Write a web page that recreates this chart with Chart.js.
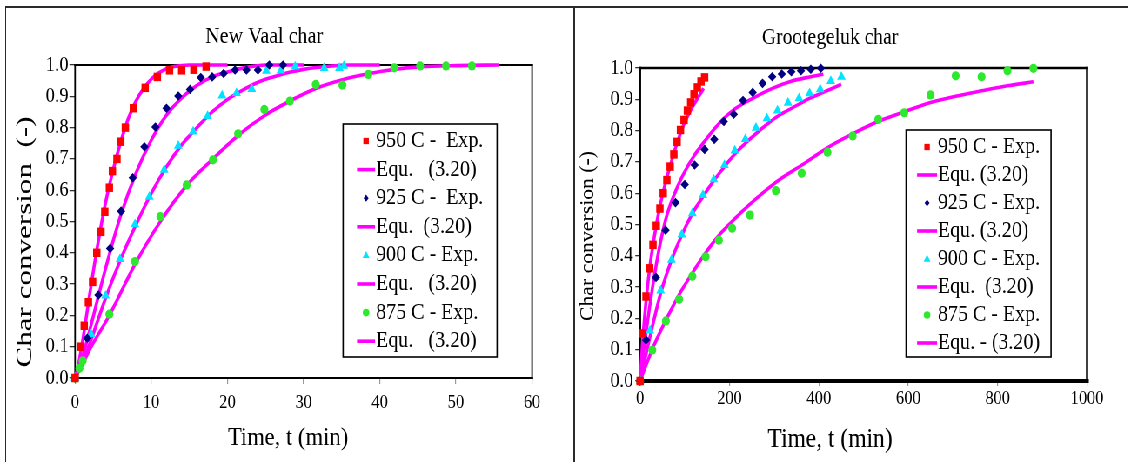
<!DOCTYPE html>
<html>
<head>
<meta charset="utf-8">
<title>Char conversion - New Vaal / Grootegeluk</title>
<script src="https://cdn.jsdelivr.net/npm/chart.js"></script>
<style>
  html, body { margin: 0; padding: 0; background: #fff; overflow: hidden; }
  #page { position: relative; width: 1128px; height: 462px; overflow: hidden; }
  .rule { position: absolute; background: #2a2a2a; }
  /* the drawing layer is squeezed horizontally, so the canvases are laid out 1/0.87 wider */
  #squeeze { position: absolute; left: 0; top: 0; width: 1297px; height: 462px;
             transform: scaleX(0.87); transform-origin: 0 0; }
  #squeeze canvas { position: absolute; top: 8px; }
</style>
</head>
<body>
<div id="page">
  <div class="rule" style="left:5px;top:6px;width:1123px;height:1.5px"></div>
  <div class="rule" style="left:4.5px;top:6px;width:1.5px;height:456px"></div>
  <div class="rule" style="left:572.5px;top:6px;width:2px;height:456px"></div>
  <div id="squeeze">
    <canvas id="newVaal" width="651" height="454" style="left:6.9px"></canvas>
    <canvas id="grootegeluk" width="636" height="454" style="left:660.9px"></canvas>
  </div>
</div>

<script>
    const SERIF = "'Liberation Serif', 'Times New Roman', serif";

    // ---- New Vaal char : experimental points (time in min, conversion) ----
    const nv950T = [0, 0.75, 1.2, 1.75, 2.3, 2.85, 3.4, 3.9, 4.5, 4.9, 5.5, 6.0, 6.6, 7.65, 9.2, 10.8, 12.4, 14.0, 15.6, 17.2];
    const nv950X = [0, 0.10, 0.167, 0.242, 0.307, 0.40, 0.467, 0.531, 0.608, 0.661, 0.70, 0.755, 0.80, 0.862, 0.927, 0.962, 0.983, 0.983, 0.985, 0.995];
    const nv925T = [0, 1.6, 3.06, 4.6, 6.04, 7.57, 9.1, 10.55, 12.0, 13.55, 15.1, 16.5, 18.0, 19.5, 21.0, 22.5, 24.0, 25.5, 27.3];
    const nv925X = [0, 0.127, 0.265, 0.414, 0.533, 0.640, 0.739, 0.802, 0.862, 0.901, 0.922, 0.960, 0.962, 0.973, 0.984, 0.984, 0.984, 1.0, 1.0];
    const nv900T = [0, 2.1, 4.0, 5.9, 7.87, 9.75, 11.7, 13.55, 15.5, 17.4, 19.3, 21.2, 23.2, 25.1, 27.0, 28.9, 32.7, 34.7, 35.3];
    const nv900X = [0, 0.140, 0.263, 0.380, 0.491, 0.579, 0.665, 0.742, 0.787, 0.837, 0.902, 0.91, 0.923, 0.981, 0.982, 0.995, 0.99, 0.99, 0.997];
    const nv875T = [0, 0.57, 1.0, 4.5, 7.87, 11.2, 14.65, 18.1, 21.4, 24.85, 28.2, 31.6, 35.1, 38.5, 41.9, 45.3, 48.7, 52.1];
    const nv875X = [0, 0.031, 0.055, 0.204, 0.372, 0.516, 0.617, 0.697, 0.78, 0.858, 0.885, 0.938, 0.936, 0.970, 0.991, 0.997, 0.997, 0.997];

    // ---- New Vaal char : Equ. (3.20) curves ----
    const nv950FitT = [0, 0.5, 1, 2, 3, 4, 5, 6, 7, 8, 9, 10, 11, 12, 13, 15, 20];
    const nv950FitX = [0, 0.05, 0.12, 0.28, 0.43, 0.56, 0.665, 0.755, 0.83, 0.885, 0.925, 0.955, 0.975, 0.988, 0.995, 1.0, 1.0];
    const nv925FitT = [0, 1, 2, 4, 6, 8, 10, 12, 14, 16, 18, 20, 22, 25, 30];
    const nv925FitX = [0, 0.07, 0.16, 0.35, 0.52, 0.655, 0.76, 0.84, 0.895, 0.935, 0.962, 0.978, 0.99, 1.0, 1.0];
    const nv900FitT = [0, 1, 2, 4, 6, 8, 10, 12, 14, 16, 18, 20, 22, 24, 26, 28, 30, 33, 36, 40];
    const nv900FitX = [0, 0.05, 0.115, 0.255, 0.38, 0.49, 0.59, 0.675, 0.745, 0.80, 0.85, 0.89, 0.92, 0.945, 0.962, 0.976, 0.986, 0.995, 1.0, 1.0];
    const nv875FitT = [0, 1, 2, 4.5, 7.9, 11.2, 14.65, 18.1, 21.4, 24.85, 28.2, 31.6, 35.1, 38.5, 41.9, 45.3, 50, 55.6];
    const nv875FitX = [0, 0.045, 0.095, 0.20, 0.365, 0.50, 0.615, 0.70, 0.775, 0.838, 0.885, 0.925, 0.953, 0.972, 0.986, 0.994, 0.998, 1.0];

    // ---- Grootegeluk char : experimental points ----
    const gg950T = [0, 6, 13.3, 21.5, 28.9, 36.3, 44.4, 51.8, 60, 67.4, 75.6, 82.9, 90.4, 98.5, 105.9, 113.3, 120.7, 128.2, 136.3, 144.4];
    const gg950X = [0, 0.152, 0.27, 0.36, 0.435, 0.496, 0.551, 0.60, 0.642, 0.685, 0.724, 0.764, 0.802, 0.834, 0.864, 0.89, 0.916, 0.938, 0.957, 0.97];
    const gg925T = [0, 13.3, 35.6, 57, 79.3, 100, 122, 144.4, 166, 187.4, 209.6, 230.4, 251.9, 274, 295.6, 317, 338.5, 360, 382, 404.4];
    const gg925X = [0, 0.131, 0.331, 0.482, 0.57, 0.628, 0.69, 0.74, 0.772, 0.829, 0.852, 0.896, 0.922, 0.951, 0.972, 0.981, 0.988, 0.991, 0.996, 0.999];
    const gg900T = [0, 22.2, 46, 70.4, 93.3, 117, 140.7, 165, 188.9, 211.9, 235.6, 259.3, 283.7, 307.4, 331, 355.6, 379.3, 403, 426.7, 450.4];
    const gg900X = [0, 0.161, 0.289, 0.387, 0.468, 0.536, 0.594, 0.644, 0.69, 0.736, 0.773, 0.809, 0.839, 0.864, 0.889, 0.903, 0.919, 0.932, 0.958, 0.972];
    const gg875T = [0, 27.4, 57.8, 87.4, 117, 146.7, 176.3, 206, 246, 303.7, 361.5, 419.3, 475.6, 533, 591, 649.6, 706, 764, 822, 880];
    const gg875X = [0, 0.099, 0.192, 0.261, 0.335, 0.397, 0.45, 0.488, 0.53, 0.608, 0.664, 0.731, 0.783, 0.836, 0.857, 0.914, 0.975, 0.972, 0.991, 0.999];

    // ---- Grootegeluk char : Equ. (3.20) curves ----
    const gg950FitT = [0, 6, 13, 21, 29, 36, 44, 52, 60, 68, 76, 83, 90, 98, 106, 113, 121, 128, 136, 142];
    const gg950FitX = [0, 0.13, 0.25, 0.355, 0.435, 0.495, 0.555, 0.605, 0.65, 0.69, 0.73, 0.76, 0.79, 0.82, 0.845, 0.865, 0.885, 0.902, 0.92, 0.935];
    const gg925FitT = [0, 13, 36, 57, 79, 100, 122, 144, 166, 187, 209, 252, 296, 338, 382, 410];
    const gg925FitX = [0, 0.15, 0.37, 0.514, 0.605, 0.669, 0.722, 0.765, 0.805, 0.838, 0.866, 0.903, 0.935, 0.958, 0.972, 0.98];
    const gg900FitT = [0, 22, 46, 70, 93, 117, 141, 165, 189, 212, 236, 259, 284, 307, 331, 356, 379, 403, 427, 450];
    const gg900FitX = [0, 0.14, 0.28, 0.385, 0.465, 0.535, 0.59, 0.64, 0.685, 0.725, 0.76, 0.79, 0.82, 0.845, 0.865, 0.885, 0.903, 0.918, 0.933, 0.948];
    const gg875FitT = [0, 27, 58, 87, 117, 147, 176, 206, 246, 304, 362, 419, 476, 533, 591, 650, 706, 764, 822, 880];
    const gg875FitX = [0, 0.10, 0.195, 0.275, 0.345, 0.41, 0.465, 0.51, 0.565, 0.635, 0.69, 0.745, 0.79, 0.83, 0.86, 0.89, 0.91, 0.927, 0.943, 0.956];

    // legend texts, in dataset order
    const nvLabels = ["950 C -  Exp.", "Equ.   (3.20)", "925 C -  Exp.", "Equ.  (3.20)",
                      "900 C - Exp.", "Equ.   (3.20)", "875 C - Exp.", "Equ.   (3.20)"];
    const ggLabels = ["950 C - Exp.", "Equ. (3.20)", "925 C - Exp.", "Equ. (3.20)",
                      "900 C - Exp.", "Equ.  (3.20)", "875 C - Exp.", "Equ. - (3.20)"];

    // tick labels
    const nvTicksX = [0, 10, 20, 30, 40, 50, 60];
    const ggTicksX = [0, 200, 400, 600, 800, 1000];
    const ticksY = [0, 0.1, 0.2, 0.3, 0.4, 0.5, 0.6, 0.7, 0.8, 0.9, 1.0];

    // marker look per temperature (950, 925, 900, 875)
    const markers = [
        { color: "#ff0000", shape: "rect", r: 6, lr: 4.2 },
        { color: "#000080", shape: "rectRot", r: 4.8, lr: 3.6 },
        { color: "#00e5ff", shape: "triangle", r: 5.8, lr: 4.4 },
        { color: "#2ee82e", shape: "circle", r: 4.6, lr: 3.8 },
    ];
    const FIT_COLOR = "#ff00ff";

    function pts(t, x) {
        return t.map((v, i) => ({ x: v, y: x[i] }));
    }

    function buildDatasets(exp, fits, labels) {
        const ds = [];
        exp.forEach((e, i) => {
            const m = markers[i];
            ds.push({
                type: "scatter", label: labels[2 * i], data: pts(e[0], e[1]),
                pointStyle: m.shape, pointRadius: m.r, pointHoverRadius: m.r,
                backgroundColor: m.color, borderColor: m.color, borderWidth: 0,
                order: 0, clip: false, legendRadius: m.lr,
            });
            ds.push({
                type: "line", label: labels[2 * i + 1], data: pts(fits[i][0], fits[i][1]),
                borderColor: FIT_COLOR, borderWidth: 3.6, pointRadius: 0, fill: false,
                cubicInterpolationMode: "monotone", order: 1, clip: false,
            });
        });
        return ds;
    }

    function drawText(ctx, text, x, y, size, opt = {}) {
        ctx.save();
        ctx.font = size + "px " + SERIF;
        ctx.fillStyle = "#000";
        ctx.textAlign = opt.align || "center";
        ctx.textBaseline = "middle";
        ctx.translate(x, y);
        if (opt.rotate) ctx.rotate(opt.rotate);
        if (opt.len) ctx.scale(opt.len / ctx.measureText(text).width, 1);
        ctx.fillText(text, 0, 0);
        ctx.restore();
    }

    function drawMarker(ctx, shape, x, y, r, color) {
        ctx.save();
        ctx.fillStyle = color;
        ctx.beginPath();
        if (shape === "rect") {
            ctx.rect(x - r * 0.75, y - r * 0.75, r * 1.5, r * 1.5);
        } else if (shape === "rectRot") {
            ctx.moveTo(x, y - r); ctx.lineTo(x + r * 0.8, y); ctx.lineTo(x, y + r); ctx.lineTo(x - r * 0.8, y);
        } else if (shape === "triangle") {
            ctx.moveTo(x, y - r); ctx.lineTo(x + r * 0.9, y + r * 0.6); ctx.lineTo(x - r * 0.9, y + r * 0.6);
        } else {
            ctx.arc(x, y, r, 0, Math.PI * 2);
        }
        ctx.closePath();
        ctx.fill();
        ctx.restore();
    }

    // plot frame, titles and the boxed legend of one panel
    function panelPlugin(p) {
        return {
            id: "panel",
            beforeDatasetsDraw(chart) {
                const { ctx, chartArea: a } = chart;
                const f = p.frame;
                ctx.save();
                ctx.strokeStyle = "#000";
                ctx.lineCap = "square";
                const seg = (x1, y1, x2, y2, w) => {
                    ctx.lineWidth = w;
                    ctx.beginPath(); ctx.moveTo(x1, y1); ctx.lineTo(x2, y2); ctx.stroke();
                };
                seg(a.left, a.top, a.right, a.top, f.top);
                seg(a.right, a.top, a.right, a.bottom, f.right);
                seg(a.left, a.top, a.left, a.bottom, f.left);
                seg(a.left, a.bottom, a.right, a.bottom, f.bottom);
                ctx.restore();
            },
            afterDraw(chart) {
                const ctx = chart.ctx;
                drawText(ctx, p.title.text, p.title.x, p.title.y, p.title.size);
                drawText(ctx, p.xTitle.text, p.xTitle.x, p.xTitle.y, p.xTitle.size);
                drawText(ctx, p.yTitle.text, p.yTitle.x, p.yTitle.y, p.yTitle.size,
                         { rotate: -Math.PI / 2, len: p.yTitle.len });

                const lg = p.legend;
                ctx.save();
                ctx.fillStyle = "#fff";
                ctx.fillRect(lg.x, lg.y, lg.w, lg.h);
                ctx.strokeStyle = "#000";
                ctx.lineWidth = 1.6;
                ctx.strokeRect(lg.x, lg.y, lg.w, lg.h);
                chart.data.datasets.forEach((ds, i) => {
                    const y = lg.row0 + i * lg.step;
                    if (ds.type === "line") {
                        ctx.strokeStyle = ds.borderColor;
                        ctx.lineWidth = 3.6;
                        ctx.beginPath(); ctx.moveTo(lg.line0, y); ctx.lineTo(lg.line1, y); ctx.stroke();
                    } else {
                        drawMarker(ctx, ds.pointStyle, lg.mark, y, ds.legendRadius, ds.backgroundColor);
                    }
                    drawText(ctx, ds.label, lg.text, y, lg.size, { align: "left" });
                });
                ctx.restore();
            },
        };
    }

    function makeChart(id, datasets, p) {
        return new Chart(document.getElementById(id).getContext("2d"), {
            data: { datasets: datasets },
            options: {
                responsive: false,
                animation: false,
                devicePixelRatio: 1,
                events: [],
                layout: { padding: p.padding },
                plugins: { legend: { display: false }, tooltip: { enabled: false }, title: { display: false } },
                scales: {
                    x: {
                        type: "linear", min: p.xTicks[0], max: p.xTicks[p.xTicks.length - 1],
                        afterBuildTicks: (s) => { s.ticks = p.xTicks.map((v) => ({ value: v })); },
                        afterFit: (s) => { s.height = p.xHeight; },
                        border: { display: false },
                        grid: { drawOnChartArea: false, drawTicks: true, tickLength: p.xTickLen, color: "#9a9a9a", lineWidth: 1.2 },
                        ticks: { color: "#000", font: { family: SERIF, size: 19 }, padding: p.xPad,
                                 maxRotation: 0, autoSkip: false, callback: (v) => String(v) },
                    },
                    y: {
                        type: "linear", min: 0, max: 1,
                        afterBuildTicks: (s) => { s.ticks = ticksY.map((v) => ({ value: v })); },
                        afterFit: (s) => { s.width = p.yWidth; },
                        border: { display: false },
                        grid: { drawOnChartArea: false, drawTicks: true, tickLength: p.yTickLen, color: "#333", lineWidth: 1.3 },
                        ticks: { color: "#000", font: { family: SERIF, size: 21 }, padding: p.yPad,
                                 autoSkip: false, callback: (v) => Number(v).toFixed(1) },
                    },
                },
            },
            plugins: [panelPlugin(p)],
        });
    }

    makeChart("newVaal",
        buildDatasets(
            [[nv950T, nv950X], [nv925T, nv925X], [nv900T, nv900X], [nv875T, nv875X]],
            [[nv950FitT, nv950FitX], [nv925FitT, nv925FitX], [nv900FitT, nv900FitX], [nv875FitT, nv875FitX]],
            nvLabels),
        {
            padding: { top: 57, right: 46.4, bottom: 44, left: 0 },
            xTicks: nvTicksX, xHeight: 40, xTickLen: 6, xPad: 8,
            yWidth: 79.3, yTickLen: 6.5, yPad: 1,
            frame: { top: 1.8, right: 1.8, bottom: 2.2, left: 1.8 },
            title: { text: "New Vaal char", x: 296.6, y: 29, size: 23 },
            xTitle: { text: "Time, t (min)", x: 324.1, y: 430, size: 26 },
            yTitle: { text: "Char conversion  (-)", x: 21.8, y: 234, size: 26, len: 251 },
            legend: { x: 387.4, y: 116, w: 177, h: 233, row0: 133, step: 28.6,
                      mark: 413.8, line0: 403.4, line1: 424.1, text: 425.3, size: 23 },
        });

    makeChart("grootegeluk",
        buildDatasets(
            [[gg950T, gg950X], [gg925T, gg925X], [gg900T, gg900X], [gg875T, gg875X]],
            [[gg950FitT, gg950FitX], [gg925FitT, gg925FitX], [gg900FitT, gg900FitX], [gg875FitT, gg875FitX]],
            ggLabels),
        {
            padding: { top: 60, right: 47.5, bottom: 41, left: 0 },
            xTicks: ggTicksX, xHeight: 40, xTickLen: 5, xPad: 2,
            yWidth: 74.7, yTickLen: 5.5, yPad: 2.5,
            frame: { top: 2.5, right: 2.5, bottom: 4, left: 2.5 },
            title: { text: "Grootegeluk char", x: 293.1, y: 30, size: 22.5 },
            xTitle: { text: "Time, t (min)", x: 293.1, y: 432, size: 27 },
            yTitle: { text: "Char conversion (-)", x: 14.9, y: 228, size: 24, len: 170 },
            legend: { x: 380.5, y: 122, w: 166.6, h: 227, row0: 139, step: 28,
                      mark: 404.6, line0: 393.1, line1: 416.1, text: 417, size: 23 },
        });
</script>
</body>
</html>
